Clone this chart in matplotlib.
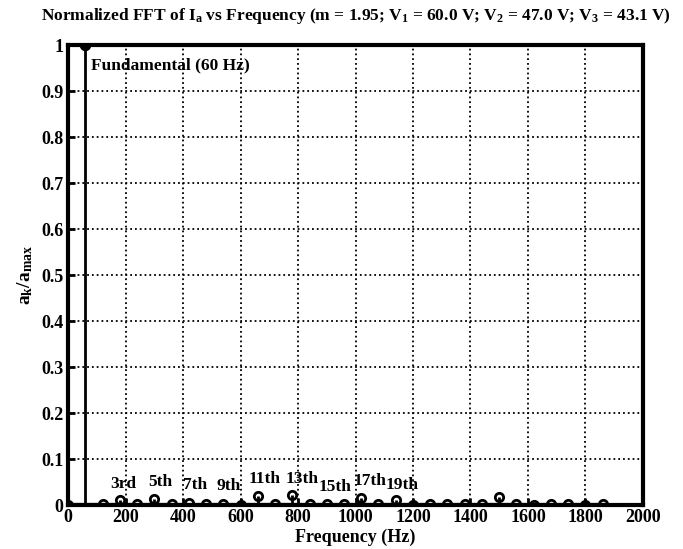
import matplotlib
matplotlib.use("Agg")
import matplotlib.pyplot as plt
import numpy as np

freqs = [0, 60, 120, 180, 240, 300, 360, 420, 480, 540, 600, 660, 720, 780, 840, 900,
         960, 1020, 1080, 1140, 1200, 1260, 1320, 1380, 1440, 1500, 1560, 1620, 1680,
         1740, 1800, 1860]
amps = [0.0, 1.0, 0.003, 0.012, 0.003, 0.013, 0.002, 0.005, 0.002, 0.003, 0.001, 0.02,
        0.003, 0.022, 0.002, 0.003, 0.002, 0.015, 0.002, 0.01, 0.001, 0.003, 0.002,
        0.003, 0.003, 0.018, 0.002, 0.001, 0.002, 0.002, 0.001, 0.003]
harm_labels = ["3rd", "5th", "7th", "9th", "11th", "13th", "15th", "17th", "19th"]
harm_x = [191, 320, 442, 557, 685, 814, 929, 1050, 1162]
harm_y = [0.028, 0.032, 0.027, 0.025, 0.040, 0.040, 0.022, 0.035, 0.027]

plt.rcParams['font.family'] = ['Liberation Serif', 'DejaVu Serif']
plt.rcParams['font.weight'] = 'bold'
plt.rcParams['mathtext.default'] = 'regular'

fig = plt.figure(figsize=(6.83, 5.49), dpi=100)
ax = fig.add_axes([0.0996, 0.080, 0.8418, 0.838])

ml, sl, bl = ax.stem(freqs, amps, linefmt='k-', markerfmt='ko', basefmt='k-')
ml.set_markerfacecolor('none')
ml.set_markeredgewidth(2)
ml.set_markersize(6)
sl.set_linewidth(2)
bl.set_linewidth(3)
ax.plot([60], [1.0], 'ko', markersize=7)

ax.set_xlim(0, 2000)
ax.set_ylim(0, 1)
ax.set_xticks(np.arange(0, 2001, 200))
ax.set_yticks(np.arange(0, 1.01, 0.1))
ax.set_yticklabels(['0', '0.1', '0.2', '0.3', '0.4', '0.5', '0.6', '0.7', '0.8', '0.9', '1'])
ax.grid(True, color='k', linestyle=':', linewidth=1.3)
ax.tick_params(direction='in', length=5, width=2, labelsize=13)
ax.tick_params(axis='x', pad=3)
for lab in ax.get_xticklabels() + ax.get_yticklabels():
    lab.set_fontweight('bold')
for s in ax.spines.values():
    s.set_linewidth(3)

for t, x, y in zip(harm_labels, harm_x, harm_y):
    ax.text(x, y, t, ha='center', va='bottom', fontsize=12.5, fontweight='bold')
ax.text(80, 0.955, "Fundamental (60 Hz)", ha='left', va='center', fontsize=12.5, fontweight='bold')

ax.set_xlabel("Frequency (Hz)", fontsize=13, fontweight='bold', labelpad=2)
ax.set_ylabel(r"a$_\mathregular{k}$/a$_\mathregular{max}$", fontsize=14, fontweight='bold')
ax.set_title(r"Normalized FFT of I$_\mathregular{a}$ vs Frequency (m = 1.95; V$_\mathregular{1}$ = 60.0 V; "
             r"V$_\mathregular{2}$ = 47.0 V; V$_\mathregular{3}$ = 43.1 V)",
             fontsize=12.5, fontweight='bold', pad=18)

fig.savefig("out.png", dpi=100)
